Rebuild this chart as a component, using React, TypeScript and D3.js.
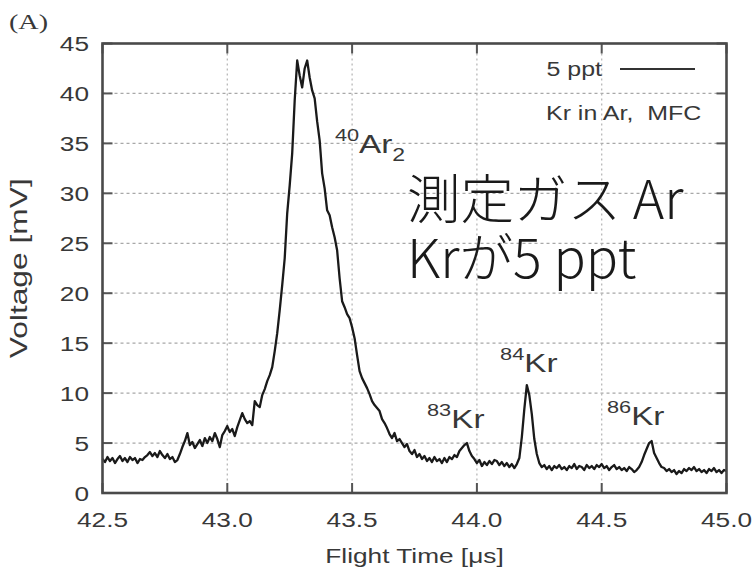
import React from "react";
import * as d3 from "d3";

// Time-of-flight trace: 5 ppt Kr in Ar (MFC dilution)
const flightTime = [
  42.50, 42.51, 42.52, 42.53, 42.54, 42.55, 42.56, 42.57, 42.58, 42.59,
  42.60, 42.61, 42.62, 42.63, 42.64, 42.65, 42.66, 42.67, 42.68, 42.69,
  42.70, 42.71, 42.72, 42.73, 42.74, 42.75, 42.76, 42.77, 42.78, 42.79,
  42.80, 42.81, 42.82, 42.83, 42.84, 42.85, 42.86, 42.87, 42.88, 42.89,
  42.90, 42.91, 42.92, 42.93, 42.94, 42.95, 42.96, 42.97, 42.98, 42.99,
  43.00, 43.01, 43.02, 43.03, 43.04, 43.05, 43.06, 43.07, 43.08, 43.09,
  43.10, 43.11, 43.12, 43.13, 43.14, 43.15, 43.16, 43.17, 43.18, 43.19,
  43.20, 43.21, 43.22, 43.23, 43.24, 43.25, 43.26, 43.27, 43.28, 43.29,
  43.30, 43.31, 43.32, 43.33, 43.34, 43.35, 43.36, 43.37, 43.38, 43.39,
  43.40, 43.41, 43.42, 43.43, 43.44, 43.45, 43.46, 43.47, 43.48, 43.49,
  43.50, 43.51, 43.52, 43.53, 43.54, 43.55, 43.56, 43.57, 43.58, 43.59,
  43.60, 43.61, 43.62, 43.63, 43.64, 43.65, 43.66, 43.67, 43.68, 43.69,
  43.70, 43.71, 43.72, 43.73, 43.74, 43.75, 43.76, 43.77, 43.78, 43.79,
  43.80, 43.81, 43.82, 43.83, 43.84, 43.85, 43.86, 43.87, 43.88, 43.89,
  43.90, 43.91, 43.92, 43.93, 43.94, 43.95, 43.96, 43.97, 43.98, 43.99,
  44.00, 44.01, 44.02, 44.03, 44.04, 44.05, 44.06, 44.07, 44.08, 44.09,
  44.10, 44.11, 44.12, 44.13, 44.14, 44.15, 44.16, 44.17, 44.18, 44.19,
  44.20, 44.21, 44.22, 44.23, 44.24, 44.25, 44.26, 44.27, 44.28, 44.29,
  44.30, 44.31, 44.32, 44.33, 44.34, 44.35, 44.36, 44.37, 44.38, 44.39,
  44.40, 44.41, 44.42, 44.43, 44.44, 44.45, 44.46, 44.47, 44.48, 44.49,
  44.50, 44.51, 44.52, 44.53, 44.54, 44.55, 44.56, 44.57, 44.58, 44.59,
  44.60, 44.61, 44.62, 44.63, 44.64, 44.65, 44.66, 44.67, 44.68, 44.69,
  44.70, 44.71, 44.72, 44.73, 44.74, 44.75, 44.76, 44.77, 44.78, 44.79,
  44.80, 44.81, 44.82, 44.83, 44.84, 44.85, 44.86, 44.87, 44.88, 44.89,
  44.90, 44.91, 44.92, 44.93, 44.94, 44.95, 44.96, 44.97, 44.98, 44.99,
  45.00,
];

const voltage = [
  3.4, 3.1, 3.6, 3.2, 3.5, 3.0, 3.4, 3.7, 3.2, 3.5,
  3.1, 3.6, 3.3, 3.5, 3.0, 3.4, 3.3, 3.6, 3.8, 4.1,
  3.7, 4.0, 3.6, 4.2, 3.8, 3.5, 3.9, 3.4, 3.6, 3.1,
  3.3, 3.9, 4.6, 5.2, 6.0, 4.8, 5.1, 4.5, 4.9, 5.3,
  4.7, 5.5, 5.0, 5.6, 5.2, 6.0, 5.4, 4.6, 5.8, 6.2,
  6.7, 6.1, 6.4, 5.7, 6.6, 7.3, 8.0, 7.4, 7.0, 7.2,
  6.8, 9.2, 8.8, 8.6, 9.8, 10.4, 11.2, 11.8, 12.6, 14.2,
  16.0, 18.3, 20.8, 23.5, 28.0, 30.8, 34.0, 39.3, 43.3, 41.8,
  40.6, 42.5, 43.3, 41.6, 40.3, 39.5, 37.2, 35.3, 32.0, 30.5,
  28.3, 27.8, 26.6, 25.6, 24.3, 21.5, 19.2, 18.6, 17.9, 17.5,
  16.6, 15.5, 13.8, 12.2, 11.5, 11.0, 10.5, 9.9, 9.2, 8.8,
  8.5, 8.2, 7.4, 7.0, 6.5, 5.9, 5.5, 6.0, 5.2, 5.4,
  5.0, 4.6, 4.9, 4.2, 3.9, 4.3, 3.6, 3.9, 3.4, 3.7,
  3.2, 3.5, 3.1, 3.6, 3.2, 3.4, 3.0, 3.5, 3.1, 3.6,
  3.4, 3.8, 3.6, 4.2, 4.5, 4.8, 5.0, 4.2, 3.7, 3.4,
  3.0, 3.3, 2.7, 3.1, 2.8, 3.2, 2.9, 3.3, 3.2, 2.8,
  3.1, 2.7, 3.0, 2.6, 2.9, 2.5, 2.9, 3.5, 5.6, 8.4,
  10.8, 9.8, 7.9, 5.4, 3.9, 3.0, 2.6, 2.8, 2.4, 2.7,
  2.3, 2.7, 2.5, 2.8, 2.4, 2.6, 2.3, 2.7, 2.5, 2.9,
  2.4, 2.7, 2.6, 2.3, 2.8, 2.5, 2.7, 2.4, 2.8, 2.6,
  2.9, 2.5, 2.7, 2.3, 2.6, 2.8, 2.4, 2.6, 2.3, 2.5,
  2.2, 2.6, 2.4, 2.1, 2.3, 2.6, 3.1, 3.8, 4.4, 5.0,
  5.2, 4.0, 3.5, 3.0, 2.6, 2.5, 2.2, 2.4, 2.1, 2.3,
  1.9, 2.2, 2.0, 2.4, 2.2, 2.5, 2.3, 2.6, 2.2, 2.4,
  2.1, 2.3, 2.0, 2.4, 2.2, 2.5, 2.1, 2.3, 2.0, 2.3,
  2.2,
];

const xTicks = [42.5, 43.0, 43.5, 44.0, 44.5, 45.0];
const yTicks = [0, 5, 10, 15, 20, 25, 30, 35, 40, 45];

// Isotope peak labels: [mass number, element, subscript, anchor time, anchor voltage]
const peakLabels: [string, string, string, number, number][] = [
  ["40", "Ar", "2", 43.431, 34.0],
  ["83", "Kr", "", 43.8, 6.5],
  ["84", "Kr", "", 44.093, 12.1],
  ["86", "Kr", "", 44.521, 6.8],
];

const legendLabel = "5 ppt";
const legendNote = "Kr in Ar,  MFC";
const noteLines = ["測定ガス Ar", "Krが5 ppt"];

const W = 753;
const H = 576;
const plot = { left: 102.5, right: 726.5, top: 43.5, bottom: 493 };
const SX = 1.28; // horizontal glyph stretch
const FONT = "'Liberation Sans', Arial, Helvetica, sans-serif";
const INK = "#383838";

function Txt({ x, y, size, anchor = "start", fill = INK, children, family = FONT }: any) {
  return (
    <text
      transform={`translate(${x},${y}) scale(${SX},1)`}
      fontSize={size}
      fontFamily={family}
      textAnchor={anchor}
      fill={fill}
      style={{ whiteSpace: "pre" }}
    >
      {children}
    </text>
  );
}

export default function App() {
  const x = d3.scaleLinear().domain([42.5, 45.0]).range([plot.left, plot.right]);
  const y = d3.scaleLinear().domain([0, 45]).range([plot.bottom, plot.top]);

  const points = flightTime.map((t, i) => [t, voltage[i]] as [number, number]);
  const line = d3
    .line<[number, number]>()
    .x((d) => x(d[0]))
    .y((d) => y(d[1]));

  const tickLen = 10;

  return (
    <svg
      width={W}
      height={H}
      style={{ position: "absolute", left: 0, top: 0, background: "#fff" }}
    >
      <rect width={W} height={H} fill="#fff" />

      {/* grid */}
      {yTicks.slice(1, -1).map((v) => (
        <line
          key={"gy" + v}
          x1={plot.left}
          x2={plot.right}
          y1={y(v)}
          y2={y(v)}
          stroke="#a8a8a8"
          strokeWidth={1.3}
          strokeDasharray="3,3"
        />
      ))}
      {xTicks.slice(1, -1).map((t) => (
        <line
          key={"gx" + t}
          x1={x(t)}
          x2={x(t)}
          y1={plot.top}
          y2={plot.bottom}
          stroke="#b8b8b8"
          strokeWidth={1.3}
          strokeDasharray="2,3"
        />
      ))}

      {/* ticks (inward, all four sides) */}
      {yTicks.map((v) => (
        <g key={"ty" + v}>
          <line x1={plot.left} x2={plot.left + tickLen} y1={y(v)} y2={y(v)} stroke="#555" strokeWidth={2} />
          <line x1={plot.right} x2={plot.right - tickLen} y1={y(v)} y2={y(v)} stroke="#555" strokeWidth={2} />
        </g>
      ))}
      {xTicks.map((t) => (
        <g key={"tx" + t}>
          <line x1={x(t)} x2={x(t)} y1={plot.bottom} y2={plot.bottom - tickLen} stroke="#555" strokeWidth={2} />
          <line x1={x(t)} x2={x(t)} y1={plot.top} y2={plot.top + tickLen} stroke="#555" strokeWidth={2} />
        </g>
      ))}

      {/* trace */}
      <path d={line(points) || ""} fill="none" stroke="#1a1a1a" strokeWidth={2.3} strokeLinejoin="round" />

      {/* frame */}
      <rect
        x={plot.left}
        y={plot.top}
        width={plot.right - plot.left}
        height={plot.bottom - plot.top}
        fill="none"
        stroke="#4a4a4a"
        strokeWidth={2.6}
      />

      {/* tick labels */}
      {yTicks.map((v) => (
        <Txt key={"ly" + v} x={89} y={y(v) + 7.5} size={20.5} anchor="end">
          {String(v)}
        </Txt>
      ))}
      {xTicks.map((t) => (
        <Txt key={"lx" + t} x={x(t)} y={527} size={20.5} anchor="middle">
          {t.toFixed(1)}
        </Txt>
      ))}

      {/* axis titles */}
      <Txt x={(plot.left + plot.right) / 2} y={563} size={20.5} anchor="middle">
        Flight Time [μs]
      </Txt>
      <text
        transform={`translate(27,${(plot.top + plot.bottom) / 2}) rotate(-90)`}
        fontSize={24}
        fontFamily={FONT}
        textAnchor="middle"
        fill={INK}
        textLength={180}
        lengthAdjust="spacingAndGlyphs"
      >
        Voltage [mV]
      </text>

      {/* panel tag */}
      <Txt x={9} y={29} size={22} family="'Liberation Serif', 'Times New Roman', serif">
        (A)
      </Txt>

      {/* key */}
      <Txt x={602} y={76} size={19.5} anchor="end">
        {legendLabel}
      </Txt>
      <line x1={620} x2={695} y1={69} y2={69} stroke="#333" strokeWidth={2.2} />
      <Txt x={546} y={120} size={19.5}>
        {legendNote}
      </Txt>

      {/* peak annotations */}
      {peakLabels.map(([mass, el, sub, t, v]) => (
        <text
          key={mass}
          transform={`translate(${x(t)},${y(v)}) scale(${SX},1)`}
          fontFamily={FONT}
          fill={INK}
        >
          <tspan fontSize={17} dy={-12}>
            {mass}
          </tspan>
          <tspan fontSize={26} dy={12}>
            {el}
          </tspan>
          {sub ? (
            <tspan fontSize={18} dy={8}>
              {sub}
            </tspan>
          ) : null}
        </text>
      ))}

      {/* note */}
      {noteLines.map((s, i) => (
        <text
          key={s}
          x={407}
          y={219 + i * 59}
          fontSize={53.5}
          fontFamily="'Noto Sans CJK JP', sans-serif"
          fontWeight={300}
          fill="#1a1a1a"
          style={{ whiteSpace: "pre" }}
        >
          {s}
        </text>
      ))}
    </svg>
  );
}
